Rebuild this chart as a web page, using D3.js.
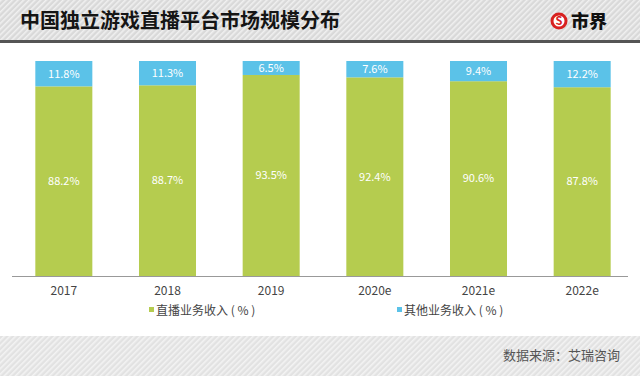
<!DOCTYPE html>
<html><head><meta charset="utf-8">
<script src="https://cdn.jsdelivr.net/npm/d3@7/dist/d3.min.js"></script>
<style>
html,body{margin:0;padding:0;background:#fff;}
svg{display:block;font-family:"Noto Sans CJK SC","Noto Sans",sans-serif;}
</style></head>
<body><svg id="c" width="640" height="376"></svg>
<script>
const title = "中国独立游戏直播平台市场规模分布";
const source = "数据来源：艾瑞咨询";
const categories = ["2017","2018","2019","2020e","2021e","2022e"];
const liveRevenue = [88.2, 88.7, 93.5, 92.4, 90.6, 87.8];
const otherRevenue = [11.8, 11.3, 6.5, 7.6, 9.4, 12.2];
const seriesNames = ["直播业务收入 ( % )", "其他业务收入 ( % )"];
const colors = ["#b5cc4f", "#5bc2e8"];

const svg = d3.select("#c");
const defs = svg.append("defs");
const pat = defs.append("pattern").attr("id","stripe").attr("patternUnits","userSpaceOnUse")
  .attr("width",4).attr("height",4).attr("patternTransform","rotate(45)");
pat.append("rect").attr("width",4).attr("height",4).attr("fill","#d9d9d9");
pat.append("rect").attr("width",1.6).attr("height",4).attr("fill","#f0f0f0");
const pat2 = defs.append("pattern").attr("id","stripe2").attr("patternUnits","userSpaceOnUse")
  .attr("width",4).attr("height",4).attr("patternTransform","rotate(45)");
pat2.append("rect").attr("width",4).attr("height",4).attr("fill","#e2e2e2");
pat2.append("rect").attr("width",1.6).attr("height",4).attr("fill","#f3f3f3");

// header
svg.append("rect").attr("x",0).attr("y",0).attr("width",640).attr("height",40).attr("fill","url(#stripe)");
svg.append("rect").attr("x",0).attr("y",40).attr("width",640).attr("height",3).attr("fill","#555");
svg.append("text").attr("x",20).attr("y",28).attr("font-size",20).attr("font-weight","bold")
  .attr("fill","#151515").text(title);
// logo
svg.append("circle").attr("cx",559).attr("cy",21).attr("r",8.5).attr("fill","#d8201f");
svg.append("circle").attr("cx",559).attr("cy",21).attr("r",5.5).attr("fill","#fff");
svg.append("text").attr("x",559).attr("y",25).attr("text-anchor","middle").attr("font-size",11)
  .attr("font-weight","bold").attr("fill","#d8201f").text("S");
svg.append("text").attr("x",571).attr("y",28).attr("font-size",18).attr("font-weight","900")
  .attr("fill","#111").text("市界");

// bottom band
svg.append("rect").attr("x",0).attr("y",336).attr("width",640).attr("height",40).attr("fill","url(#stripe2)");
svg.append("text").attr("x",620).attr("y",360).attr("text-anchor","end").attr("font-size",13)
  .attr("fill","#555").text(source);

// scales
const x = d3.scaleBand().domain(categories).range([12,634]).paddingInner(0.45).paddingOuter(0.225);
const y = d3.scaleLinear().domain([0,100]).range([276,61]);

const g = svg.append("g");
categories.forEach((c,i)=>{
  const a = liveRevenue[i], b = otherRevenue[i];
  g.append("rect").attr("x",x(c)).attr("width",x.bandwidth()).attr("y",y(a)).attr("height",y(0)-y(a)).attr("fill",colors[0]);
  g.append("rect").attr("x",x(c)).attr("width",x.bandwidth()).attr("y",y(a+b)).attr("height",y(a)-y(a+b)).attr("fill",colors[1]);
  g.append("text").attr("x",x(c)+x.bandwidth()/2).attr("y",(y(0)+y(a))/2).attr("dy","0.35em")
    .attr("text-anchor","middle").attr("font-size",11).attr("fill","#fff").text(a.toFixed(1)+"%");
  g.append("text").attr("x",x(c)+x.bandwidth()/2).attr("y",(y(a)+y(a+b))/2).attr("dy","0.35em")
    .attr("text-anchor","middle").attr("font-size",11).attr("fill","#fff").text(b.toFixed(1)+"%");
});

// axis
const ax = svg.append("g").attr("transform","translate(0,276)")
  .call(d3.axisBottom(x).tickSize(0).tickPadding(10));
ax.select(".domain").attr("stroke","#999").attr("d","M12,0.5H628");
ax.selectAll("text").attr("font-size",12).attr("fill","#444")
  .attr("font-family","\"Noto Sans CJK SC\",\"Noto Sans\",sans-serif");

// legend
const leg = [{x:149, n:seriesNames[0], c:colors[0]},{x:397, n:seriesNames[1], c:colors[1]}];
leg.forEach(l=>{
  svg.append("rect").attr("x",l.x).attr("y",307).attr("width",5).attr("height",5).attr("fill",l.c);
  svg.append("text").attr("x",l.x+7).attr("y",314.5).attr("font-size",12).attr("fill","#444").text(l.n);
});
</script></body></html>
